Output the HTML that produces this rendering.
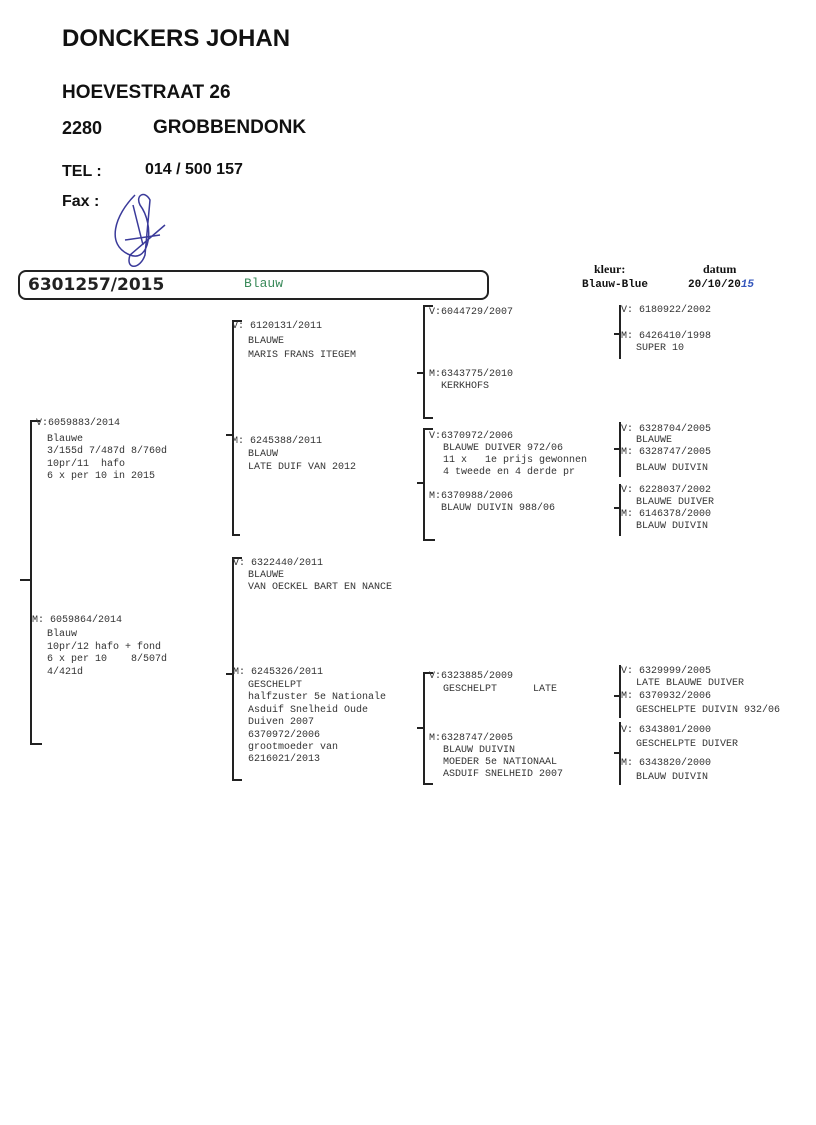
<!DOCTYPE html>
<html><head><meta charset="utf-8"><style>
body{margin:0;width:816px;height:1125px;background:#fff;position:relative;overflow:hidden;font-family:"Liberation Sans",sans-serif;}
.h{position:absolute;font-weight:bold;color:#111;white-space:nowrap;}
.t{position:absolute;font-family:"Liberation Mono",monospace;font-size:10px;line-height:12px;color:#333;white-space:pre;}
.v{position:absolute;background:#222;width:2px;}
.k{position:absolute;background:#222;height:2px;}
</style></head><body>
<div class="h" style="left:62px;top:25px;font-size:24px">DONCKERS JOHAN</div>
<div class="h" style="left:62px;top:82px;font-size:19px">HOEVESTRAAT 26</div>
<div class="h" style="left:62px;top:118px;font-size:18px">2280</div>
<div class="h" style="left:153px;top:117px;font-size:19px">GROBBENDONK</div>
<div class="h" style="left:62px;top:163px;font-size:16px">TEL :</div>
<div class="h" style="left:145px;top:161px;font-size:16px">014 / 500 157</div>
<div class="h" style="left:62px;top:193px;font-size:16px">Fax :</div>
<svg style="position:absolute;left:95px;top:185px" width="100" height="90" fill="none" stroke="#3a3a9a" stroke-width="1.5">
<path d="M40 10 C20 30,10 60,35 70 C55 78,60 40,45 20 C40 10,50 5,55 15 L50 70 C45 85,30 85,35 70 L70 40"/>
<path d="M38 20 L48 60 M30 55 L65 50"/>
</svg>
<div style="position:absolute;left:18px;top:270px;width:467px;height:26px;border:2px solid #222;border-radius:8px"></div>
<div class="h" style="left:28px;top:275px;font-size:17px;font-family:'DejaVu Sans',sans-serif;color:#222">6301257/2015</div>
<div class="t" style="left:244px;top:278px;font-size:13px;color:#3a8a5a">Blauw</div>
<div class="t" style="left:594px;top:263px;font-weight:bold;font-family:'Liberation Serif',serif;font-size:12px;color:#111">kleur:</div>
<div class="t" style="left:582px;top:279px;font-weight:bold;font-size:11px;color:#111">Blauw-Blue</div>
<div class="t" style="left:703px;top:263px;font-weight:bold;font-family:'Liberation Serif',serif;font-size:12px;color:#111">datum</div>
<div class="t" style="left:688px;top:279px;font-weight:bold;font-size:11px;color:#111">20/10/20<span style="color:#3355bb;font-style:italic">15</span></div>

<!-- gen1 -->
<div class="v" style="left:30px;top:420px;height:325px"></div>
<div class="k" style="left:30px;top:420px;width:10px"></div>
<div class="k" style="left:30px;top:743px;width:12px"></div>
<div class="k" style="left:20px;top:579px;width:10px"></div>
<div class="t" style="left:36px;top:418px">V:6059883/2014</div>
<div class="t" style="left:47px;top:434px;line-height:12.3px">Blauwe
3/155d 7/487d 8/760d
10pr/11  hafo
6 x per 10 in 2015</div>
<div class="t" style="left:32px;top:615px">M: 6059864/2014</div>
<div class="t" style="left:47px;top:629px;line-height:12.5px">Blauw
10pr/12 hafo + fond
6 x per 10    8/507d
4/421d</div>

<!-- gen2 upper -->
<div class="v" style="left:232px;top:320px;height:216px"></div>
<div class="k" style="left:232px;top:320px;width:10px"></div>
<div class="k" style="left:232px;top:534px;width:8px"></div>
<div class="k" style="left:226px;top:434px;width:7px"></div>
<div class="t" style="left:232px;top:321px">V: 6120131/2011</div>
<div class="t" style="left:248px;top:335px;line-height:14px">BLAUWE
MARIS FRANS ITEGEM</div>
<div class="t" style="left:232px;top:436px">M: 6245388/2011</div>
<div class="t" style="left:248px;top:449px;line-height:12.5px">BLAUW
LATE DUIF VAN 2012</div>

<!-- gen2 lower -->
<div class="v" style="left:232px;top:557px;height:224px"></div>
<div class="k" style="left:232px;top:557px;width:10px"></div>
<div class="k" style="left:232px;top:779px;width:10px"></div>
<div class="k" style="left:226px;top:673px;width:7px"></div>
<div class="t" style="left:233px;top:558px">V: 6322440/2011</div>
<div class="t" style="left:248px;top:570px">BLAUWE
VAN OECKEL BART EN NANCE</div>
<div class="t" style="left:233px;top:667px">M: 6245326/2011</div>
<div class="t" style="left:248px;top:680px;line-height:12.4px">GESCHELPT
halfzuster 5e Nationale
Asduif Snelheid Oude
Duiven 2007
6370972/2006
grootmoeder van
6216021/2013</div>

<!-- gen3 a -->
<div class="v" style="left:423px;top:305px;height:114px"></div>
<div class="k" style="left:423px;top:305px;width:10px"></div>
<div class="k" style="left:423px;top:417px;width:10px"></div>
<div class="k" style="left:417px;top:372px;width:7px"></div>
<div class="t" style="left:429px;top:307px">V:6044729/2007</div>
<div class="t" style="left:429px;top:369px">M:6343775/2010
  KERKHOFS</div>
<!-- gen3 b -->
<div class="v" style="left:423px;top:428px;height:113px"></div>
<div class="k" style="left:423px;top:428px;width:10px"></div>
<div class="k" style="left:423px;top:539px;width:12px"></div>
<div class="k" style="left:417px;top:482px;width:7px"></div>
<div class="t" style="left:429px;top:431px">V:6370972/2006</div>
<div class="t" style="left:443px;top:443px">BLAUWE DUIVER 972/06
11 x   1e prijs gewonnen
4 tweede en 4 derde pr</div>
<div class="t" style="left:429px;top:491px">M:6370988/2006
  BLAUW DUIVIN 988/06</div>
<!-- gen3 c -->
<div class="v" style="left:423px;top:672px;height:113px"></div>
<div class="k" style="left:423px;top:672px;width:10px"></div>
<div class="k" style="left:423px;top:783px;width:10px"></div>
<div class="k" style="left:417px;top:727px;width:7px"></div>
<div class="t" style="left:429px;top:671px">V:6323885/2009</div>
<div class="t" style="left:443px;top:684px">GESCHELPT      LATE</div>
<div class="t" style="left:429px;top:733px">M:6328747/2005</div>
<div class="t" style="left:443px;top:745px">BLAUW DUIVIN
MOEDER 5e NATIONAAL
ASDUIF SNELHEID 2007</div>

<!-- gen4 -->
<div class="v" style="left:619px;top:305px;height:54px"></div>
<div class="k" style="left:614px;top:333px;width:6px"></div>
<div class="t" style="left:621px;top:305px">V: 6180922/2002</div>
<div class="t" style="left:621px;top:331px">M: 6426410/1998</div>
<div class="t" style="left:636px;top:343px">SUPER 10</div>

<div class="v" style="left:619px;top:422px;height:55px"></div>
<div class="k" style="left:614px;top:448px;width:6px"></div>
<div class="t" style="left:621px;top:424px">V: 6328704/2005</div>
<div class="t" style="left:636px;top:435px">BLAUWE</div>
<div class="t" style="left:621px;top:447px">M: 6328747/2005</div>
<div class="t" style="left:636px;top:463px">BLAUW DUIVIN</div>

<div class="v" style="left:619px;top:484px;height:52px"></div>
<div class="k" style="left:614px;top:507px;width:6px"></div>
<div class="t" style="left:621px;top:485px">V: 6228037/2002</div>
<div class="t" style="left:636px;top:497px">BLAUWE DUIVER</div>
<div class="t" style="left:621px;top:509px">M: 6146378/2000</div>
<div class="t" style="left:636px;top:521px">BLAUW DUIVIN</div>

<div class="v" style="left:619px;top:665px;height:53px"></div>
<div class="k" style="left:614px;top:695px;width:6px"></div>
<div class="t" style="left:621px;top:666px">V: 6329999/2005</div>
<div class="t" style="left:636px;top:678px">LATE BLAUWE DUIVER</div>
<div class="t" style="left:621px;top:691px">M: 6370932/2006</div>
<div class="t" style="left:636px;top:705px">GESCHELPTE DUIVIN 932/06</div>

<div class="v" style="left:619px;top:722px;height:63px"></div>
<div class="k" style="left:614px;top:752px;width:6px"></div>
<div class="t" style="left:621px;top:725px">V: 6343801/2000</div>
<div class="t" style="left:636px;top:739px">GESCHELPTE DUIVER</div>
<div class="t" style="left:621px;top:758px">M: 6343820/2000</div>
<div class="t" style="left:636px;top:772px">BLAUW DUIVIN</div>
</body></html>
